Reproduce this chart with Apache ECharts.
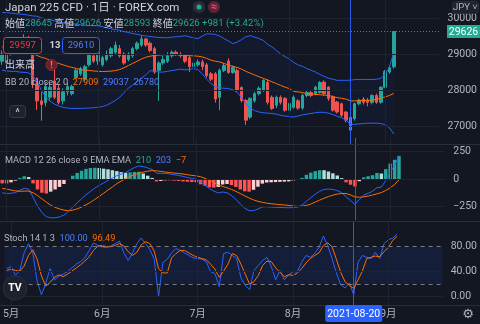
<!DOCTYPE html>
<html><head><meta charset="utf-8">
<script src="https://cdn.jsdelivr.net/npm/echarts@6/dist/echarts.min.js"></script>
<style>html,body{margin:0;padding:0;background:#131722;overflow:hidden}#c{width:480px;height:324px}</style>
</head><body><div id="c"></div>
<script>
const dates = ['2021-04-30',
'2021-05-03','2021-05-04','2021-05-05','2021-05-06','2021-05-07','2021-05-10','2021-05-11','2021-05-12','2021-05-13','2021-05-14','2021-05-17','2021-05-18','2021-05-19','2021-05-20','2021-05-21','2021-05-24','2021-05-25','2021-05-26','2021-05-27','2021-05-28','2021-05-31',
'2021-06-01','2021-06-02','2021-06-03','2021-06-04','2021-06-07','2021-06-08','2021-06-09','2021-06-10','2021-06-11','2021-06-14','2021-06-15','2021-06-16','2021-06-17','2021-06-18','2021-06-21','2021-06-22','2021-06-23','2021-06-24','2021-06-25','2021-06-28','2021-06-29','2021-06-30',
'2021-07-01','2021-07-02','2021-07-05','2021-07-06','2021-07-07','2021-07-08','2021-07-09','2021-07-12','2021-07-13','2021-07-14','2021-07-15','2021-07-16','2021-07-19','2021-07-20','2021-07-21','2021-07-22','2021-07-23','2021-07-26','2021-07-27','2021-07-28','2021-07-29','2021-07-30',
'2021-08-02','2021-08-03','2021-08-04','2021-08-05','2021-08-06','2021-08-09','2021-08-10','2021-08-11','2021-08-12','2021-08-13','2021-08-16','2021-08-17','2021-08-18','2021-08-19','2021-08-20','2021-08-23','2021-08-24','2021-08-25','2021-08-26','2021-08-27','2021-08-30','2021-08-31',
'2021-09-01','2021-09-02','2021-09-03'];

const open = [28800,28750,29050,29100,29200,29350,29450,29100,28150,27700,
27650,27800,28250,28050,27700,27950,27900,28350,28450,28300,
28700,28950,28800,28700,28850,28950,29050,29150,29000,28850,
28950,29150,29250,29420,29300,29150,28550,28750,28800,28950,
29050,29000,28950,28900,28650,28700,28780,28700,28450,28450,
27800,28540,28810,28490,28540,28070,27710,27250,27700,27900,
27990,28210,27800,27580,27800,27770,27440,27520,27700,27500,
27850,27930,27900,27930,28220,28085,27810,27670,27620,27390,
27240,27210,27620,27750,27720,27660,27850,27660,28080,28500,
28645];
const close = [29000,29050,29100,29200,29350,29450,29100,28150,27700,27600,
28100,28080,27800,27650,27950,28100,28100,28550,28600,28650,
29000,28800,29050,28900,29000,29150,29250,28950,28750,29000,
29150,29300,29420,29250,29100,28500,28750,28850,28950,29050,
29000,28950,28800,28650,28750,28780,28650,28400,28300,27750,
28550,28680,28490,28630,27990,27710,27165,27770,27900,28050,
28270,27660,27490,27800,27660,27440,27630,27800,27500,27850,
27930,27850,28080,28210,27900,27765,27440,27390,27300,27165,
26890,27620,27720,27660,27660,27850,27660,28080,28520,28620,
29626];
const low = [28700,28650,28950,29000,29100,29250,29000,28050,27450,27150,
27550,27700,27750,27600,27600,27850,27850,28300,28400,28250,
28650,28750,28700,28650,28800,28900,29000,28900,28700,28800,
28900,29100,29200,29200,29050,28450,27700,28700,28750,28900,
28950,28900,28750,28500,28600,28650,28550,28350,28250,27650,
27440,28500,28450,28450,27950,27650,27030,27200,27650,27850,
27950,27600,27450,27500,27600,27400,27400,27480,27450,27450,
27800,27800,27850,27900,27850,27700,27400,27350,27250,27100,
26850,27150,27580,27600,27550,27600,27620,27620,28050,28450,
28593];
const high = [29100,29100,29250,29300,29400,29550,29500,29150,28350,27950,
28200,28200,28600,28150,28050,28200,28150,28600,28650,28700,
29050,29100,29100,28950,29100,29200,29350,29250,29050,29050,
29200,29350,29520,29450,29350,29200,28800,28950,29050,29100,
29100,29050,29000,28950,28800,28850,28850,28750,28500,28500,
28600,28750,28880,28680,28600,28100,27750,27800,27950,28100,
28300,28300,27850,27850,27850,27800,27700,27850,27750,27900,
27980,28000,28120,28250,28270,28100,27850,27700,27650,27420,
27270,27650,27760,27800,27780,27880,27900,28100,28560,28680,
29626];

const bbUpper = [30150,30150,30140,30120,30110,30100,30080,30060,30050,30000,
29980,29950,29920,29900,29870,29850,29840,29830,29815,29800,
29790,29790,29785,29760,29730,29700,29680,29660,29620,29600,
29570,29550,29520,29500,29490,29470,29460,29455,29455,29470,
29480,29490,29510,29480,29450,29430,29500,29560,29560,29540,
29500,29430,29360,29290,29330,29400,29480,29510,29470,29430,
29380,29270,29200,29100,29000,28930,28860,28770,28700,28660,
28600,28550,28500,28435,28380,28330,28300,28270,28270,28270,
28275,28290,28295,28295,28295,28295,28300,28325,28430,28650,
29037];
const bbBasis = [29200,29190,29170,29130,29110,29090,29060,29015,28960,28910,
28880,28820,28770,28740,28700,28660,28630,28600,28570,28550,
28545,28530,28520,28515,28518,28525,28540,28570,28620,28680,
28740,28800,28860,28910,28940,28960,28970,28980,28985,28985,
28980,28970,28960,28955,28950,28940,28920,28880,28830,28800,
28780,28740,28690,28660,28630,28580,28520,28470,28420,28370,
28325,28280,28230,28180,28130,28080,28040,27960,27950,27930,
27900,27890,27880,27870,27860,27850,27820,27790,27770,27750,
27700,27700,27705,27710,27715,27720,27740,27780,27810,27850,
27909];
const bbLower = [28550,28530,28520,28520,28500,28490,28480,28400,28250,28000,
27800,27690,27610,27560,27520,27500,27490,27490,27490,27495,
27500,27510,27520,27540,27580,27640,27710,27800,27930,28050,
28140,28240,28330,28420,28540,28520,28500,28500,28520,28540,
28560,28580,28560,28570,28600,28560,28450,28300,28180,28080,
28060,28050,28040,28010,27940,27790,27620,27500,27430,27390,
27370,27360,27350,27330,27300,27280,27260,27250,27280,27310,
27330,27350,27370,27385,27380,27360,27320,27270,27230,27170,
27050,27050,27060,27070,27080,27080,27080,27070,27040,26950,
26780];

const macdLine = [-125,-132,-130,-123,-102,-85,-92,-165,-245,-305,
-342,-353,-353,-344,-328,-296,-253,-217,-180,-143,
-113,-83,-58,-36,-12,8,30,44,59,82,
104,118,113,101,86,52,51,51,46,39,
32,24,14,5,-2,-27,-57,-87,-110,-127,
-118,-125,-150,-184,-227,-265,-288,-288,-273,-254,
-252,-255,-257,-259,-260,-262,-259,-256,-238,-202,
-170,-138,-112,-95,-92,-95,-105,-124,-162,-197,
-230,-186,-147,-130,-111,-79,-74,-14,60,125,
203];
const signalLine = [-85,-92,-100,-108,-112,-110,-110,-125,-150,-180,
-210,-238,-258,-272,-283,-288,-283,-272,-255,-235,
-213,-185,-158,-130,-100,-72,-42,-18,3,22,
40,52,63,71,76,74,69,63,58,54,
50,46,39,33,28,21,5,-12,-32,-55,
-68,-80,-95,-112,-132,-153,-173,-190,-203,-212,
-220,-225,-229,-233,-236,-240,-245,-250,-248,-240,
-228,-210,-192,-175,-160,-147,-137,-132,-132,-145,
-162,-166,-162,-155,-146,-134,-124,-104,-80,-50,
-7];
const macdHist = [-40,-40,-30,-15,10,25,18,-40,-95,-125,
-132,-115,-95,-72,-45,-8,30,55,75,92,
100,102,100,94,88,80,72,62,56,60,
64,66,50,30,10,-22,-18,-12,-12,-15,
-18,-22,-25,-28,-30,-48,-62,-75,-78,-72,
-50,-45,-55,-72,-95,-112,-115,-98,-70,-42,
-32,-30,-28,-26,-24,-22,-14,-6,10,38,
58,72,80,80,68,52,32,8,-30,-52,
-68,-20,15,25,35,55,50,90,140,175,
210];

const stochK = [45,48,34,42,70,85,70,25,3,22,
45,27,33,36,40,46,52,56,62,74,
86,82,79,79,81,85,89,70,58,70,
85,94,85,75,60,0,55,60,70,77,
74,70,66,62,61,60,56,40,37,16,
69,71,66,61,30,18,11,42,50,58,
63,48,27,42,27,35,40,40,55,66,
63,69,79,97,82,61,38,19,14,22,
3,55,66,63,61,71,61,85,91,94,
100];
const stochD = [42,44,42,41,49,66,75,60,33,17,
23,31,35,32,36,41,46,51,57,64,
74,81,82,80,80,82,85,81,72,66,
71,83,88,85,73,45,38,38,62,69,
74,74,70,66,63,61,59,52,44,31,
41,52,69,66,52,36,20,24,34,50,
57,56,46,39,32,35,34,38,45,54,
61,66,70,82,86,80,60,39,24,18,
13,27,41,61,63,65,64,72,79,90,
96.49];

const priceTicks = [27000, 28000, 29000, 30000];
const macdTicks = [-250, 0, 250];
const stochTicks = [0, 40, 80];
const stochBand = [20, 80];
const monthTicks = [['2021-05-03','5月'],['2021-06-01','6月'],['2021-07-01','7月'],['2021-08-02','8月'],['2021-09-01','9月']];
const crossDate = '2021-08-20';
const lastPrice = 29626;

const FF = 'Roboto, "Noto Sans CJK JP", sans-serif';
const C = {up:'#26a69a', down:'#ef5350', blue:'#2962ff', orange:'#ff6d00', text:'#d1d4dc', axis:'#b2b5be', grid:'#1f2330', sep:'#2a2e39'};

const pad = 10;
const cats = dates.concat(Array.from({length: pad}, (_, i) => 'pad' + i));
const monthMap = {}; monthTicks.forEach(([d, t]) => { monthMap[d] = t; });
const n = dates.length;
const PX = 4.45;
const gridLeft = -1.5 - PX / 2;
const gridW = PX * cats.length;

const chart = echarts.init(document.getElementById('c'), null, {renderer: 'canvas'});

function xAx(i) {
  return {type: 'category', gridIndex: i, data: cats, boundaryGap: true,
    axisLine: {show: false}, axisTick: {show: false}, splitLine: {show: false},
    axisPointer: {show: false},
    axisLabel: {show: i === 2, interval: (idx, v) => monthMap[v] !== undefined,
      formatter: v => monthMap[v] || '', color: C.axis, fontSize: 10.5, fontFamily: FF, margin: 2}};
}
function yAx(i, min, max, interval, fmt) {
  return {type: 'value', gridIndex: i, position: 'right', min, max, interval,
    axisLine: {show: false}, axisTick: {show: false}, splitLine: {show: false},
    axisLabel: {color: C.axis, fontSize: 10.5, fontFamily: FF, margin: 8, formatter: fmt}};
}
function vLines() {
  const d = monthTicks.map(([dt]) => ({xAxis: dt}));
  d.push({xAxis: crossDate, lineStyle: {color: C.blue, width: 1, type: 'solid', opacity: 0.9}});
  return d;
}
function gridMark(ticks, extra) {
  return {silent: true, symbol: ['none', 'none'], label: {show: false}, animation: false,
    lineStyle: {color: C.grid, width: 1, type: 'solid'},
    data: ticks.map(v => ({yAxis: v})).concat(vLines()).concat(extra || [])};
}
const lineS = (name, data, color, xi, extra) => Object.assign({
  type: 'line', name, data, xAxisIndex: xi, yAxisIndex: xi, showSymbol: false, symbol: 'none',
  lineStyle: {color, width: 1}, itemStyle: {color}, z: 4, silent: true, animation: false}, extra || {});

const histColor = p => {
  const i = p.dataIndex, v = macdHist[i], pv = i > 0 ? macdHist[i - 1] : v;
  if (v >= 0) return v > pv ? '#26a69a' : '#b2dfdb';
  return v > pv ? '#ffcdd2' : '#ff5252';
};

const option = {
  backgroundColor: '#131722',
  animation: false,
  grid: [
    {left: gridLeft, width: gridW, top: -0.815, height: 144.92},
    {left: gridLeft, width: gridW, top: 137.75, height: 82.5},
    {left: gridLeft, width: gridW, top: 221.7, height: 85}
  ],
  xAxis: [xAx(0), xAx(1), xAx(2)],
  yAxis: [
    yAx(0, 26500, 30500, 500, v => priceTicks.includes(v) ? String(v) : ''),
    yAx(1, -375, 375, 125, v => macdTicks.includes(v) ? (v < 0 ? '\u2212' + (-v) : String(v)) : ''),
    yAx(2, -16, 120, 8, v => stochTicks.includes(v) ? v.toFixed(2) : '')
  ],
  series: [
    {type: 'custom', xAxisIndex: 0, yAxisIndex: 0, data: [0], silent: true, z: 1,
      renderItem: (params, api) => {
        const pts = [];
        for (let i = 0; i < bbUpper.length; i++) pts.push(api.coord([i, bbUpper[i]]));
        for (let i = bbLower.length - 1; i >= 0; i--) pts.push(api.coord([i, bbLower[i]]));
        return {type: 'polygon', shape: {points: pts}, style: {fill: 'rgba(41,98,255,0.05)'}};
      }},
    {type: 'candlestick', xAxisIndex: 0, yAxisIndex: 0, barWidth: 3, silent: true, z: 3,
      data: open.map((o, i) => [o, close[i], low[i], high[i]]),
      itemStyle: {color: C.up, color0: C.down, borderColor: C.up, borderColor0: C.down, borderWidth: 1},
      markLine: {silent: true, symbol: ['none', 'none'], label: {show: false}, animation: false,
        lineStyle: {color: '#26a69a', type: [1, 2], width: 1, opacity: 0.9},
        data: [{yAxis: lastPrice}]}},
    lineS('upper', bbUpper, C.blue, 0, {markLine: gridMark(priceTicks)}),
    lineS('basis', bbBasis, C.orange, 0),
    lineS('lower', bbLower, C.blue, 0),
    {type: 'bar', xAxisIndex: 1, yAxisIndex: 1, data: macdHist, barWidth: '78%', silent: true, z: 3,
      itemStyle: {color: histColor}, markLine: gridMark(macdTicks)},
    lineS('macd', macdLine, C.blue, 1),
    lineS('signal', signalLine, C.orange, 1),
    lineS('k', stochK, C.blue, 2, {
      markArea: {silent: true, itemStyle: {color: 'rgba(41,98,255,0.1)'},
        data: [[{yAxis: stochBand[0]}, {yAxis: stochBand[1]}]]},
      markLine: gridMark(stochTicks.filter(v => v !== 80),
        stochBand.map(v => ({yAxis: v, lineStyle: {color: '#787b86', type: [4, 4], width: 1}})))}),
    lineS('d', stochD, C.orange, 2)
  ]
};
chart.setOption(option);

const cx = chart.convertToPixel({xAxisIndex: 2, yAxisIndex: 2}, [crossDate, 0])[0];
const py = chart.convertToPixel({xAxisIndex: 0, yAxisIndex: 0}, [dates[n - 1], lastPrice])[1];

const LS = 9.2;
const R = (fill, size, weight) => ({fill, fontSize: size || LS, fontFamily: FF, fontWeight: weight || 'normal'});
function txt(x, y, text, rich, o) {
  return Object.assign({type: 'text', z: 100, style: Object.assign({x, y, text, rich,
    fill: C.text, fontSize: LS, fontFamily: FF, verticalAlign: 'middle', align: 'left'}, o || {})});
}
const els = [
  {type: 'line', z: 90, shape: {x1: 0, y1: 144.5, x2: 480, y2: 144.5}, style: {stroke: C.sep, lineWidth: 1}},
  {type: 'line', z: 90, shape: {x1: 0, y1: 221.5, x2: 480, y2: 221.5}, style: {stroke: C.sep, lineWidth: 1}},
  {type: 'line', z: 90, shape: {x1: 0, y1: 305.5, x2: 480, y2: 305.5}, style: {stroke: C.sep, lineWidth: 1}},
  txt(5, 8, 'Japan 225 CFD · 1日 · FOREX.com', null, {fontSize: 11.5}),
  {type: 'circle', z: 100, shape: {cx: 199, cy: 7, r: 6}, style: {fill: '#2a2e39'}},
  {type: 'circle', z: 101, shape: {cx: 199, cy: 7, r: 2.5}, style: {fill: '#22ab94'}},
  {type: 'circle', z: 100, shape: {cx: 214, cy: 7, r: 6}, style: {fill: '#5e2436'}},
  txt(214, 7.5, '≈', null, {fill: '#f7525f', fontSize: 11, align: 'center', fontWeight: 'bold'}),
  txt(5, 24, '{l|始値}{v|28645} {l|高値}{v|29626} {l|安値}{v|28593} {l|終値}{v|29626} {v|+981 (+3.42%)}',
    {l: R(C.text, 10), v: R('#22ab94', 9.6)}),
  {type: 'rect', z: 100, shape: {x: 3.5, y: 37.5, width: 38, height: 16, r: 3}, style: {fill: '#131722', stroke: '#f23645', lineWidth: 1}},
  txt(22.5, 46, '29597', null, {fill: '#f23645', align: 'center', fontSize: 9.5}),
  txt(55, 46, '13', null, {fill: C.text, align: 'center', fontWeight: 'bold', fontSize: 9.5}),
  {type: 'rect', z: 100, shape: {x: 62.5, y: 37.5, width: 37, height: 16, r: 3}, style: {fill: '#131722', stroke: C.blue, lineWidth: 1}},
  txt(81, 46, '29610', null, {fill: '#4f7dff', align: 'center', fontSize: 9.5}),
  txt(5, 65, '出来高', null, {fill: C.text, fontSize: 10}),
  {type: 'circle', z: 100, shape: {cx: 51.5, cy: 65, r: 5.5}, style: {fill: '#6e2029', stroke: '#8a2a33'}},
  txt(51.5, 65.5, '!', null, {fill: '#ff6b6b', align: 'center', fontWeight: 'bold'}),
  txt(5, 83, '{l|BB 20 close 2 0}  {o|27909}  {b|29037}  {b|26780}', {l: R(C.axis), o: R(C.orange), b: R('#4f7dff')}),
  {type: 'rect', z: 100, shape: {x: 9.5, y: 105.5, width: 16, height: 12, r: 3}, style: {fill: '#1e222d', stroke: '#363a45'}},
  txt(17.5, 113, '^', null, {fill: C.text, align: 'center', fontSize: 10}),
  txt(5, 161, '{l|MACD 12 26 close 9 EMA EMA}  {g|210}  {b|203}  {o|\u22127}', {l: R(C.axis), g: R('#22ab94'), b: R('#4f7dff'), o: R(C.orange)}),
  txt(4, 239, '{l|Stoch 14 1 3}  {b|100.00}  {o|96.49}', {l: R(C.axis), b: R('#4f7dff'), o: R(C.orange)}),
  {type: 'circle', z: 100, shape: {cx: 15, cy: 288, r: 12}, style: {fill: '#1e222d', stroke: '#2a2e39'}},
  txt(15, 288.5, 'TV', null, {fill: '#ffffff', align: 'center', fontSize: 10.5, fontWeight: 'bold'}),
  {type: 'rect', z: 100, shape: {x: 452.5, y: 1.5, width: 26, height: 12, r: 3}, style: {fill: '#1e222d', stroke: '#2a2e39'}},
  txt(465.5, 8, 'JPY ˅', null, {fill: C.axis, align: 'center', fontSize: 9.5}),
  {type: 'rect', z: 100, shape: {x: 447, y: py - 6.5, width: 33, height: 13}, style: {fill: '#22ab94'}},
  txt(463.5, py + 0.5, String(lastPrice), null, {fill: '#ffffff', align: 'center', fontSize: 10.5}),
  {type: 'rect', z: 100, shape: {x: cx - 28.5, y: 305, width: 57, height: 17, r: 2}, style: {fill: C.blue}},
  txt(cx, 314, crossDate, null, {fill: '#ffffff', align: 'center', fontSize: 10.5}),
  txt(468, 315, '⚙', null, {fill: C.axis, align: 'center', fontSize: 13, fontFamily: '"DejaVu Sans", sans-serif'})
];
chart.setOption({graphic: {elements: els}});
</script>
</body></html>
